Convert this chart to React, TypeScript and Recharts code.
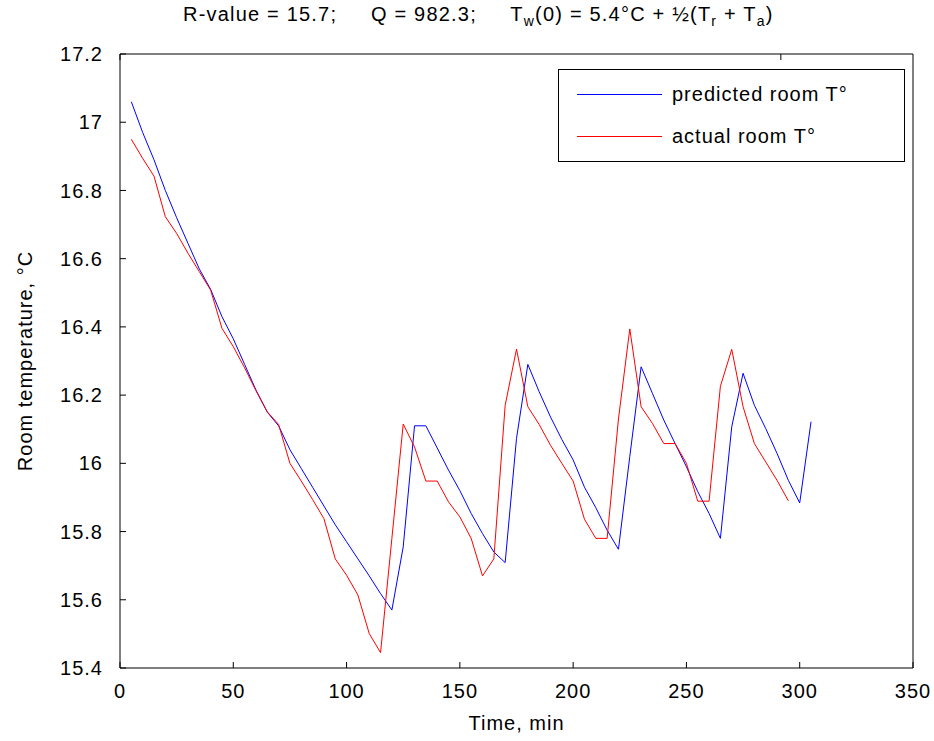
import { LineChart, Line, XAxis, YAxis, Legend, Label } from 'recharts';

const TIMES = [
  5, 10, 15, 20, 25, 30, 35, 40, 45, 50, 55, 60, 65, 70, 75, 80, 85, 90, 95, 100,
  105, 110, 115, 120, 125, 130, 135, 140, 145, 150, 155, 160, 165, 170, 175, 180,
  185, 190, 195, 200, 205, 210, 215, 220, 225, 230, 235, 240, 245, 250, 255, 260,
  265, 270, 275, 280, 285, 290, 295, 300, 305
];

const PREDICTED = [
  17.06, 16.97, 16.89, 16.8, 16.72, 16.645, 16.57, 16.51, 16.43, 16.365, 16.29,
  16.215, 16.15, 16.11, 16.04, 15.985, 15.93, 15.875, 15.82, 15.77, 15.72, 15.67,
  15.618, 15.57, 15.755, 16.11, 16.11, 16.045, 15.98, 15.92, 15.853, 15.794, 15.74,
  15.709, 16.073, 16.29, 16.21, 16.136, 16.07, 16.01, 15.93, 15.87, 15.804, 15.748,
  16.02, 16.283, 16.205, 16.127, 16.058, 15.99, 15.917, 15.853, 15.78, 16.107,
  16.264, 16.17, 16.102, 16.029, 15.95, 15.884, 16.122
];

// actual readings stop at 295 min
const ACTUAL = [
  16.95, 16.894, 16.842, 16.723, 16.674, 16.616, 16.562, 16.508, 16.396, 16.342,
  16.28, 16.213, 16.151, 16.114, 16.0, 15.948, 15.894, 15.838, 15.72, 15.672,
  15.614, 15.501, 15.445, 15.78, 16.115, 16.048, 15.948, 15.948, 15.887, 15.843,
  15.78, 15.67, 15.72, 16.17, 16.335, 16.166, 16.114, 16.053, 16.0, 15.948, 15.836,
  15.78, 15.78, 16.13, 16.394, 16.166, 16.117, 16.058, 16.058, 16.0, 15.889, 15.889,
  16.226, 16.334, 16.166, 16.058, 16.004, 15.95, 15.89
];

const X_TICKS = [0, 50, 100, 150, 200, 250, 300, 350];
const Y_TICKS = [15.4, 15.6, 15.8, 16, 16.2, 16.4, 16.6, 16.8, 17, 17.2];

const SERIES = [
  { key: 'predicted', name: 'predicted room T°', color: '#0000ff' },
  { key: 'actual', name: 'actual room T°', color: '#ff0000' }
];

const FONT = '"Liberation Sans", Arial, sans-serif';

const data = TIMES.map((time, i) => ({
  time,
  predicted: PREDICTED[i],
  actual: i < ACTUAL.length ? ACTUAL[i] : null
}));

const fmtY = (v: number) => String(Number(v.toFixed(1)));

const renderLegend = () => (
  <div
    style={{
      boxSizing: 'border-box',
      width: 347,
      height: 93,
      border: '1px solid #000',
      background: '#fff',
      fontFamily: FONT,
      fontSize: 20,
      letterSpacing: 1,
      color: '#000',
      paddingTop: 3
    }}
  >
    {SERIES.map((s) => (
      <div key={s.key} style={{ display: 'flex', alignItems: 'center', height: 42 }}>
        <div style={{ marginLeft: 18, width: 85, height: 1, background: s.color }} />
        <span style={{ marginLeft: 10 }}>{s.name}</span>
      </div>
    ))}
  </div>
);

const App = () => {
  const axisStroke = '#000';
  const tickStyle = { fill: '#000', fontSize: 20, fontFamily: FONT, letterSpacing: 1 };
  const labelStyle = { fill: '#000', fontSize: 20, fontFamily: FONT, letterSpacing: 1 };

  return (
    <div style={{ position: 'absolute', left: 0, top: 0, width: 934, height: 741, background: '#fff' }}>
      <div
        style={{
          position: 'absolute',
          left: 183,
          top: 3,
          fontFamily: FONT,
          fontSize: 20,
          letterSpacing: 1.2,
          whiteSpace: 'pre',
          color: '#000'
        }}
      >
        {'R-value = 15.7;     Q = 982.3;     T'}
        <sub style={{ fontSize: 14 }}>w</sub>
        {'(0) = 5.4°C + ½(T'}
        <sub style={{ fontSize: 14 }}>r</sub>
        {' + T'}
        <sub style={{ fontSize: 14 }}>a</sub>
        {')'}
      </div>
      <LineChart
        width={934}
        height={741}
        data={data}
        margin={{ top: 44, right: 11, bottom: 33, left: 60 }}
      >
        <XAxis
          xAxisId="bottom"
          dataKey="time"
          type="number"
          domain={[0, 350]}
          ticks={X_TICKS}
          height={40}
          stroke={axisStroke}
          tickSize={-6}
          tickMargin={22}
          tick={tickStyle}
        >
          <Label value="Time, min" position="insideBottom" offset={-22} style={labelStyle} />
        </XAxis>
        <XAxis
          xAxisId="top"
          orientation="top"
          type="number"
          domain={[0, 350]}
          ticks={X_TICKS}
          height={10}
          stroke={axisStroke}
          tickSize={-6}
          tickFormatter={() => ''}
        />
        <YAxis
          yAxisId="left"
          type="number"
          domain={[15.4, 17.2]}
          ticks={Y_TICKS}
          width={60}
          stroke={axisStroke}
          tickSize={-6}
          tickMargin={23}
          tick={tickStyle}
          tickFormatter={fmtY}
        >
          <Label
            value="Room temperature, °C"
            angle={-90}
            position="insideLeft"
            offset={-35}
            style={{ ...labelStyle, textAnchor: 'middle' }}
          />
        </YAxis>
        <YAxis
          yAxisId="right"
          orientation="right"
          type="number"
          domain={[15.4, 17.2]}
          ticks={Y_TICKS}
          width={10}
          stroke={axisStroke}
          tickSize={-6}
          tickFormatter={() => ''}
        />
        <Legend
          layout="vertical"
          align="center"
          verticalAlign="middle"
          content={renderLegend}
          wrapperStyle={{ left: 558, top: 69, width: 347, height: 93 }}
        />
        {SERIES.map((s) => (
          <Line
            key={s.key}
            xAxisId="bottom"
            yAxisId="left"
            type="linear"
            dataKey={s.key}
            name={s.name}
            stroke={s.color}
            strokeWidth={1}
            dot={false}
            activeDot={false}
            isAnimationActive={false}
          />
        ))}
      </LineChart>
    </div>
  );
};

export default App;
